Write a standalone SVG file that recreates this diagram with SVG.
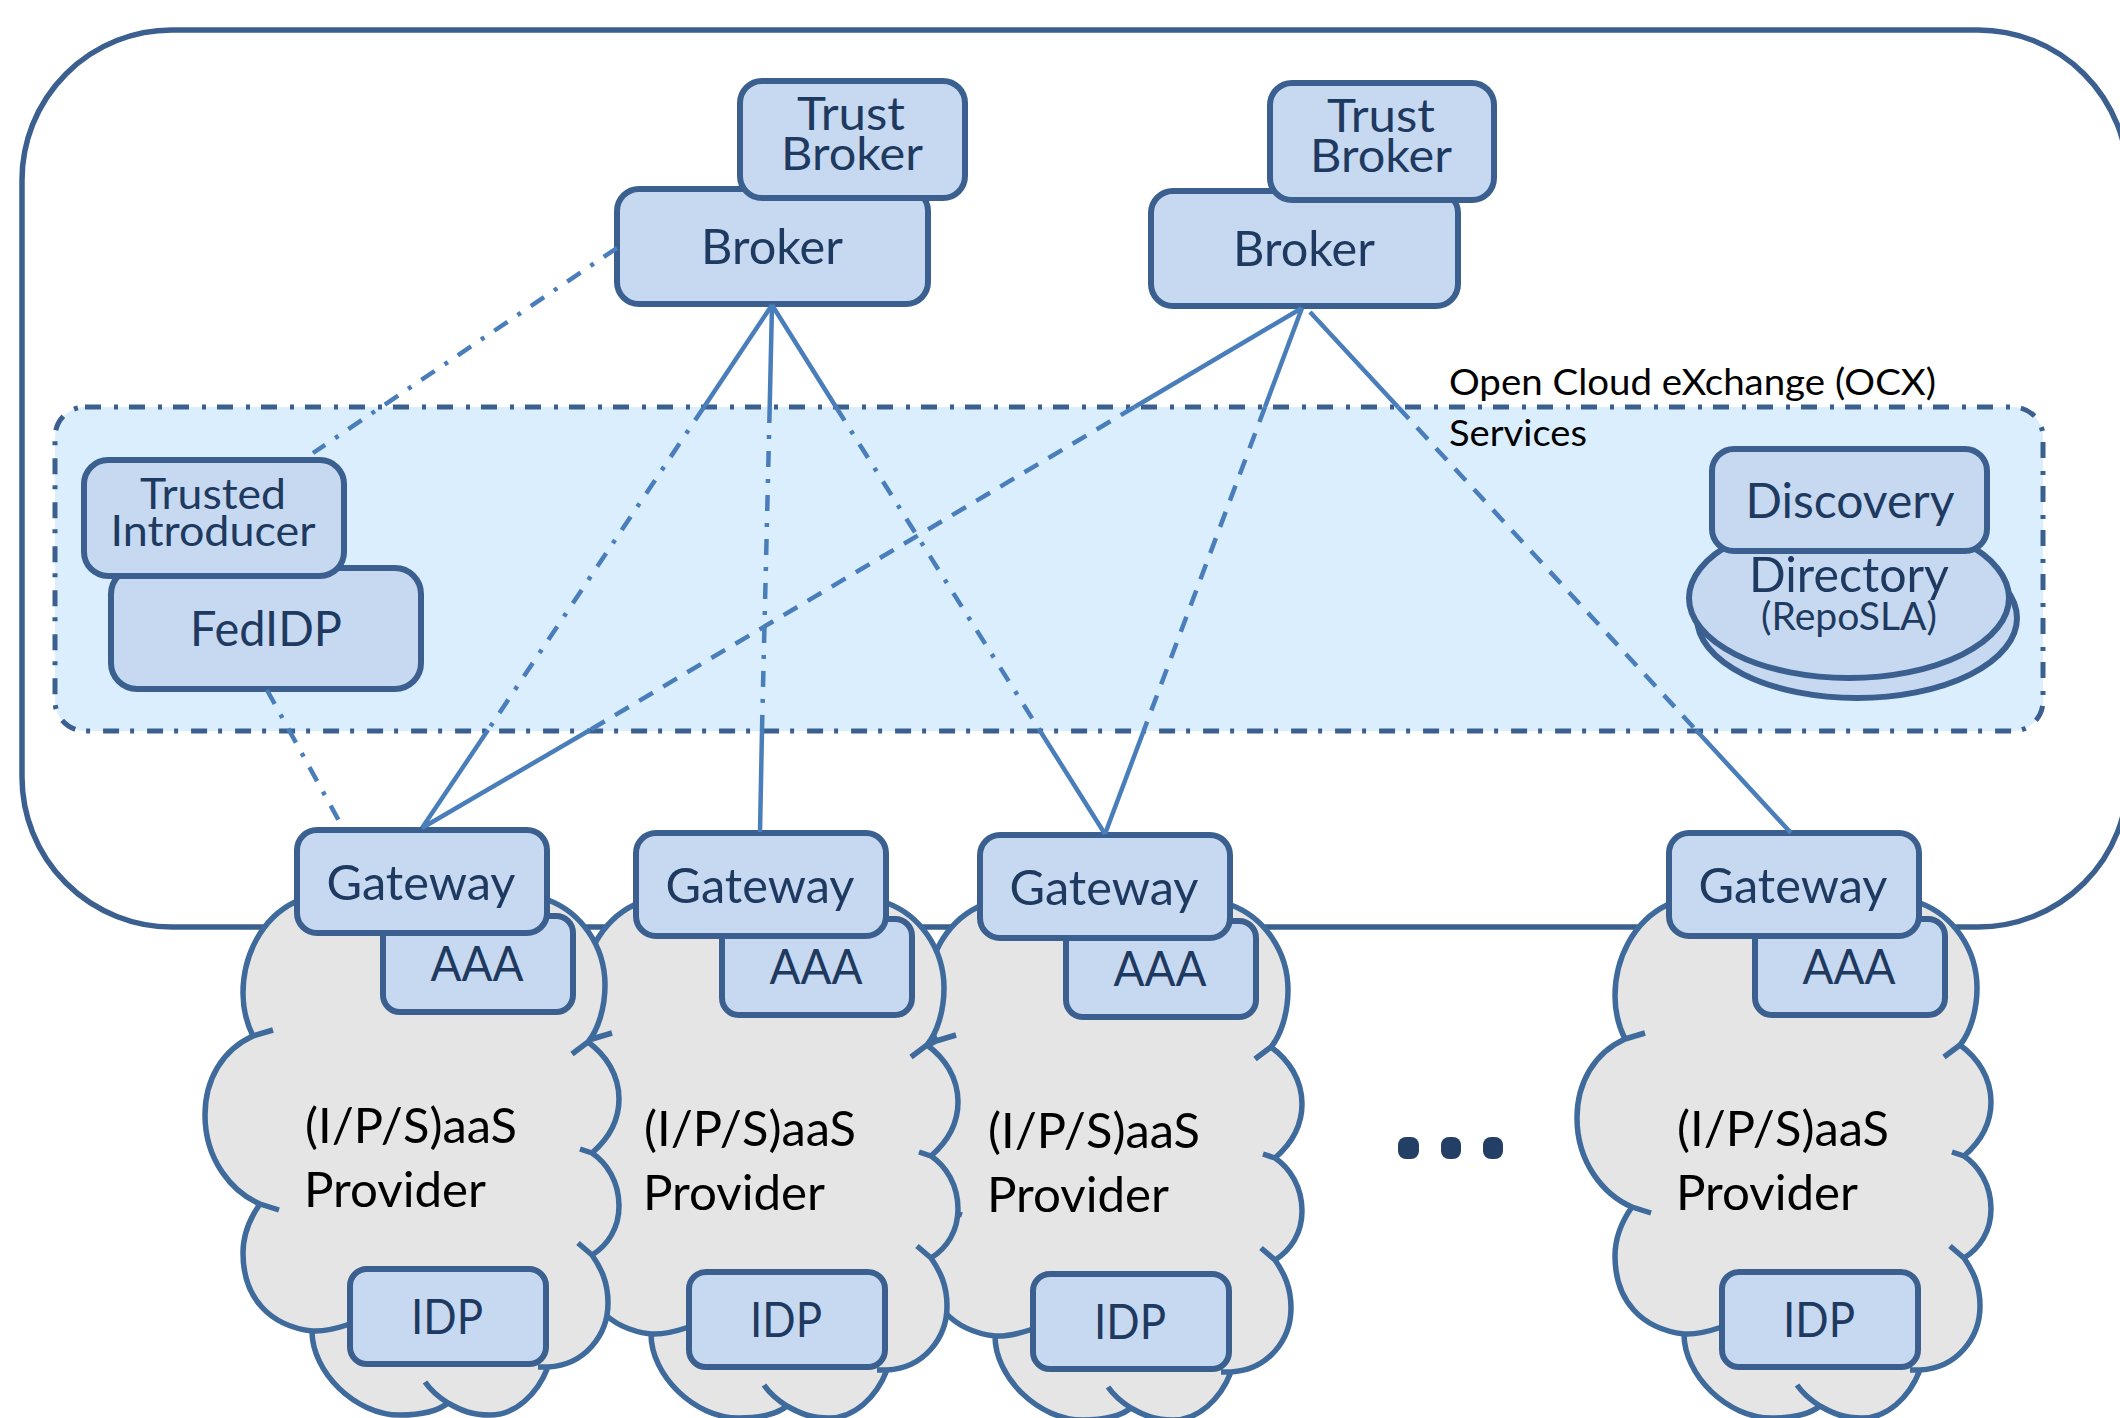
<svg xmlns="http://www.w3.org/2000/svg" width="2120" height="1418" viewBox="0 0 2120 1418">
<style>
text{font-family:"Lato","Carlito","Liberation Sans",sans-serif;font-size:48px;fill:#1F3A60}
.dark{fill:#000}
.tb{font-size:46px}
.box{fill:#C6D9F1;stroke:#3B6090;stroke-width:6}
.cloud{fill:#E5E5E5;stroke:#3F6A9C;stroke-width:5.5;stroke-linejoin:round;stroke-linecap:butt}
.ocx{fill:#DAEEFD;stroke:#3B6090;stroke-width:5;stroke-dasharray:16 13 4 11}
.outer{fill:#fff;stroke:#3B6090;stroke-width:5.5}
.con{fill:none;stroke:#4A7EBB;stroke-width:4.5}
.dd{stroke-dasharray:16 12 4 12}
.da{stroke-dasharray:16 12}
.dot{fill:#243F66}
</style>
<defs>
<path id="cloud" d="M295,902C262,918 243,955 243,993C243,1010 247,1024 253,1036C222,1050 205,1080 205,1115C205,1160 232,1192 260,1204C250,1218 243,1235 243,1253C243,1298 270,1326 312,1331C312,1372 355,1415 400,1415C420,1415 438,1411 448,1403C462,1411 472,1415 490,1415C515,1415 537,1395 548,1367C585,1365 608,1335 608,1303C608,1282 601,1268 592,1255C608,1245 619,1228 619,1206C619,1182 607,1163 592,1153C607,1140 619,1122 619,1099C619,1075 606,1055 588,1042C598,1030 605,1008 605,985C605,945 580,912 548,900ZM253,1036L273,1030M260,1204L279,1210M312,1331C325,1332 338,1328 350,1324M425,1382C432,1392 440,1398 448,1403M538,1367L548,1367M578,1243L592,1255M580,1149L592,1153M572,1054L588,1042"/>
</defs>

<rect id="exchange" class="outer" x="22" y="30" width="2106" height="897" rx="150" ry="150"/>
<g id="ocx-services">
<rect class="ocx" x="55" y="407" width="1988" height="324" rx="30" ry="30"/>
<text class="dark" x="1449" y="395" style="font-size:36px" textLength="487" lengthAdjust="spacingAndGlyphs">Open Cloud eXchange (OCX)</text>
<text class="dark" x="1449" y="446" style="font-size:36px" textLength="138" lengthAdjust="spacingAndGlyphs">Services</text>
</g>

<g id="broker1"><rect class="box" x="617" y="189" width="311" height="115" rx="22"/><text x="772" y="264" text-anchor="middle" textLength="142" lengthAdjust="spacingAndGlyphs">Broker</text></g>
<g id="trust-broker1"><rect class="box" x="740" y="81" width="225" height="117" rx="22"/><text class="tb" x="851" y="130" text-anchor="middle" textLength="108" lengthAdjust="spacingAndGlyphs">Trust</text><text class="tb" x="852" y="170" text-anchor="middle" textLength="142" lengthAdjust="spacingAndGlyphs">Broker</text></g>
<g id="broker2"><rect class="box" x="1151" y="191" width="307" height="115" rx="22"/><text x="1304" y="266" text-anchor="middle" textLength="142" lengthAdjust="spacingAndGlyphs">Broker</text></g>
<g id="trust-broker2"><rect class="box" x="1270" y="83" width="224" height="117" rx="22"/><text class="tb" x="1381" y="132" text-anchor="middle" textLength="108" lengthAdjust="spacingAndGlyphs">Trust</text><text class="tb" x="1381" y="172" text-anchor="middle" textLength="142" lengthAdjust="spacingAndGlyphs">Broker</text></g>

<g id="fedidp"><rect class="box" x="111" y="568" width="310" height="121" rx="26"/><text x="266" y="646" text-anchor="middle" textLength="152" lengthAdjust="spacingAndGlyphs">FedIDP</text></g>
<g id="trusted-introducer"><rect class="box" x="84" y="460" width="260" height="116" rx="24"/><text x="213" y="509" text-anchor="middle" textLength="146" lengthAdjust="spacingAndGlyphs" style="font-size:43px">Trusted</text><text x="213" y="546" text-anchor="middle" textLength="205" lengthAdjust="spacingAndGlyphs" style="font-size:43px">Introducer</text></g>

<g id="directory"><ellipse class="box" cx="1857" cy="618" rx="160" ry="80"/><ellipse class="box" cx="1849" cy="598" rx="160" ry="80"/></g>
<g id="discovery"><rect class="box" x="1712" y="449" width="275" height="102" rx="22"/><text x="1850" y="518" text-anchor="middle" textLength="209" lengthAdjust="spacingAndGlyphs">Discovery</text></g>
<g id="directory-label"><text x="1849" y="592" text-anchor="middle" textLength="200" lengthAdjust="spacingAndGlyphs">Directory</text><text x="1849" y="630" text-anchor="middle" textLength="176" lengthAdjust="spacingAndGlyphs" style="font-size:38px">(RepoSLA)</text></g>

<g id="provider4" transform="translate(1372,3)">
<use href="#cloud" class="cloud"/>
<text class="dark" x="305" y="1143" textLength="212" lengthAdjust="spacingAndGlyphs">(I/P/S)aaS</text><text class="dark" x="304" y="1207" textLength="182" lengthAdjust="spacingAndGlyphs">Provider</text>
<g id="aaa4"><rect class="box" x="383" y="916" width="190" height="96" rx="17"/><text x="477" y="981" text-anchor="middle" textLength="93" lengthAdjust="spacingAndGlyphs">AAA</text></g>
<g id="gateway4"><rect class="box" x="297" y="830" width="250" height="103" rx="20"/><text x="421" y="900" text-anchor="middle" textLength="189" lengthAdjust="spacingAndGlyphs">Gateway</text></g>
<g id="idp4"><rect class="box" x="350" y="1269" width="196" height="95" rx="17"/><text x="447" y="1334" text-anchor="middle" textLength="72" lengthAdjust="spacingAndGlyphs">IDP</text></g>
</g>
<g id="provider3" transform="translate(683,5)">
<use href="#cloud" class="cloud"/>
<text class="dark" x="305" y="1143" textLength="212" lengthAdjust="spacingAndGlyphs">(I/P/S)aaS</text><text class="dark" x="304" y="1207" textLength="182" lengthAdjust="spacingAndGlyphs">Provider</text>
<g id="aaa3"><rect class="box" x="383" y="916" width="190" height="96" rx="17"/><text x="477" y="981" text-anchor="middle" textLength="93" lengthAdjust="spacingAndGlyphs">AAA</text></g>
<g id="gateway3"><rect class="box" x="297" y="830" width="250" height="103" rx="20"/><text x="421" y="900" text-anchor="middle" textLength="189" lengthAdjust="spacingAndGlyphs">Gateway</text></g>
<g id="idp3"><rect class="box" x="350" y="1269" width="196" height="95" rx="17"/><text x="447" y="1334" text-anchor="middle" textLength="72" lengthAdjust="spacingAndGlyphs">IDP</text></g>
</g>
<g id="provider2" transform="translate(339,3)">
<use href="#cloud" class="cloud"/>
<text class="dark" x="305" y="1143" textLength="212" lengthAdjust="spacingAndGlyphs">(I/P/S)aaS</text><text class="dark" x="304" y="1207" textLength="182" lengthAdjust="spacingAndGlyphs">Provider</text>
<g id="aaa2"><rect class="box" x="383" y="916" width="190" height="96" rx="17"/><text x="477" y="981" text-anchor="middle" textLength="93" lengthAdjust="spacingAndGlyphs">AAA</text></g>
<g id="gateway2"><rect class="box" x="297" y="830" width="250" height="103" rx="20"/><text x="421" y="900" text-anchor="middle" textLength="189" lengthAdjust="spacingAndGlyphs">Gateway</text></g>
<g id="idp2"><rect class="box" x="350" y="1269" width="196" height="95" rx="17"/><text x="447" y="1334" text-anchor="middle" textLength="72" lengthAdjust="spacingAndGlyphs">IDP</text></g>
</g>
<g id="provider1">
<use href="#cloud" class="cloud"/>
<text class="dark" x="305" y="1143" textLength="212" lengthAdjust="spacingAndGlyphs">(I/P/S)aaS</text><text class="dark" x="304" y="1207" textLength="182" lengthAdjust="spacingAndGlyphs">Provider</text>
<g id="aaa1"><rect class="box" x="383" y="916" width="190" height="96" rx="17"/><text x="477" y="981" text-anchor="middle" textLength="93" lengthAdjust="spacingAndGlyphs">AAA</text></g>
<g id="gateway1"><rect class="box" x="297" y="830" width="250" height="103" rx="20"/><text x="421" y="900" text-anchor="middle" textLength="189" lengthAdjust="spacingAndGlyphs">Gateway</text></g>
<g id="idp1"><rect class="box" x="350" y="1269" width="196" height="95" rx="17"/><text x="447" y="1334" text-anchor="middle" textLength="72" lengthAdjust="spacingAndGlyphs">IDP</text></g>
</g>

<g id="ellipsis" class="dot"><rect x="1398" y="1137" width="21" height="22" rx="8"/><rect x="1441" y="1137" width="20" height="22" rx="8"/><rect x="1483" y="1137" width="20" height="22" rx="8"/></g>

<g id="connectors">
<path class="con dd" d="M617,248L313,453"/>
<path class="con dd" d="M267,690L344,830"/>
<path class="con" d="M772,305L704,407M488,730L422,828"/><path class="con dd" d="M704,407L488,730"/>
<path class="con" d="M772,305L769.7,407M762,730L760,832"/><path class="con dd" d="M769.7,407L762,730"/>
<path class="con" d="M772,305L836,407M1039.5,730L1105,834"/><path class="con dd" d="M836,407L1039.5,730"/>
<path class="con" d="M1302,308L1134.5,407M590,730L422,828"/><path class="con da" d="M1134.5,407L590,730"/>
<path class="con" d="M1302,308L1265,407M1144,730L1105,834"/><path class="con da" d="M1265,407L1144,730"/>
<path class="con" d="M1310,312L1398,407M1696,730L1791,833"/><path class="con da" d="M1398,407L1696,730"/>
</g>
</svg>
